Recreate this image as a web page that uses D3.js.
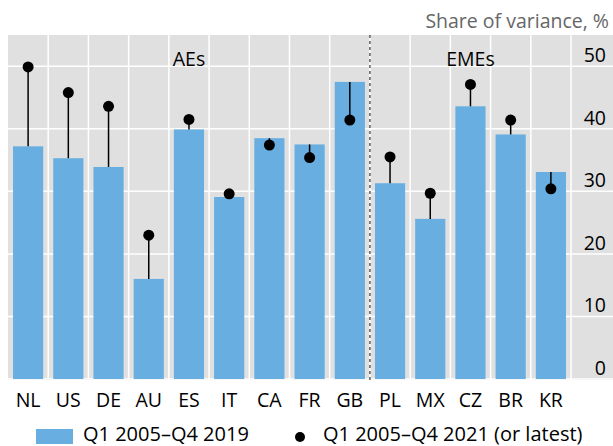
<!DOCTYPE html>
<html><head><meta charset="utf-8">
<script src="https://cdn.jsdelivr.net/npm/d3@7"></script>
<style>body{margin:0;background:#fff}svg{display:block}text{font-family:"Open Sans",sans-serif}</style>
</head><body>
<svg id="c" width="613" height="446"></svg>
<script>
const categories = ["NL","US","DE","AU","ES","IT","CA","FR","GB","PL","MX","CZ","BR","KR"];
const bars2019 = [37.2,35.3,33.9,16.0,39.9,29.1,38.5,37.5,47.5,31.3,25.6,43.6,39.1,33.1];
const dots2021 = [49.9,45.8,43.6,23.0,41.5,29.6,37.4,35.4,41.4,35.5,29.7,47.1,41.4,30.4];
const yTicks = [0,10,20,30,40,50];
const groups = [{label:"AEs", from:"NL", to:"GB"},{label:"EMEs", from:"PL", to:"KR"}];
const legendLabels = ["Q1 2005\u2013Q4 2019","Q1 2005\u2013Q4 2021 (or latest)"];
const yTitle = "Share of variance, %";

(function(){
const svg = d3.select("#c");
const pLeft = 8, plotRight = 571, panelRight = 613, pTop = 35, pBottom = 379;
const x = d3.scaleBand().domain(categories).range([pLeft, plotRight]).paddingInner(0.25).paddingOuter(0.125);
const y = d3.scaleLinear().domain([0,55]).range([pBottom, pTop]);
const blue = "#68aee0", grey = "#e0e0e0";
const fs = 19.5;

svg.append("rect").attr("x",pLeft).attr("y",pTop).attr("width",panelRight-pLeft).attr("height",pBottom+1-pTop).attr("fill",grey);
svg.append("g").selectAll("line").data(yTicks).join("line")
  .attr("x1",pLeft).attr("x2",panelRight).attr("y1",d=>y(d)).attr("y2",d=>y(d))
  .attr("stroke","#fff").attr("stroke-width",1.5);
const step = x.step();
const bounds = d3.range(1, categories.length+1).map(i => pLeft + i*step);
svg.append("g").selectAll("line").data(bounds).join("line")
  .attr("x1",d=>d).attr("x2",d=>d).attr("y1",pTop).attr("y2",pBottom+1)
  .attr("stroke","#fff").attr("stroke-width",1.5);
svg.append("g").selectAll("text").data(yTicks).join("text")
  .attr("x",606).attr("y",d=>y(d)-4).attr("text-anchor","end")
  .attr("font-size",fs).attr("fill","#000").text(d=>d);
svg.append("g").selectAll("rect").data(categories).join("rect")
  .attr("x",d=>x(d)).attr("width",x.bandwidth())
  .attr("y",(d,i)=>y(bars2019[i])).attr("height",(d,i)=>y(0)-y(bars2019[i]))
  .attr("fill",blue);
const sepX = x("PL") - (step - x.bandwidth())/2;
svg.append("line").attr("x1",sepX).attr("x2",sepX).attr("y1",pTop).attr("y2",pBottom+1)
  .attr("stroke","#444").attr("stroke-width",1.3).attr("stroke-dasharray","3,3");
const cx = d => x(d) + x.bandwidth()/2;
svg.append("g").selectAll("line").data(categories).join("line")
  .attr("x1",cx).attr("x2",cx).attr("y1",(d,i)=>y(bars2019[i])).attr("y2",(d,i)=>y(dots2021[i]))
  .attr("stroke","#000").attr("stroke-width",1.5);
svg.append("g").selectAll("circle").data(categories).join("circle")
  .attr("cx",cx).attr("cy",(d,i)=>y(dots2021[i])).attr("r",5.5).attr("fill","#000");
svg.append("g").selectAll("text").data(groups).join("text")
  .attr("x",g => (x(g.from) + x(g.to) + x.bandwidth())/2)
  .attr("y",66).attr("text-anchor","middle").attr("font-size",fs).attr("fill","#000").text(g=>g.label);
svg.append("g").selectAll("text").data(categories).join("text")
  .attr("x",cx).attr("y",407).attr("text-anchor","middle").attr("font-size",fs).attr("fill","#000").text(d=>d);
svg.append("text").attr("x",609).attr("y",28).attr("text-anchor","end").attr("font-size",fs).attr("fill","#666").text(yTitle);
const lg = svg.append("g");
lg.append("rect").attr("x",36).attr("y",429).attr("width",37).attr("height",15).attr("fill",blue);
lg.append("text").attr("x",83).attr("y",441).attr("font-size",20).attr("fill","#000").text(legendLabels[0]);
lg.append("circle").attr("cx",300).attr("cy",437).attr("r",5).attr("fill","#000");
lg.append("text").attr("x",323).attr("y",441).attr("font-size",20).attr("fill","#000").text(legendLabels[1]);
})();
</script>
</body></html>
